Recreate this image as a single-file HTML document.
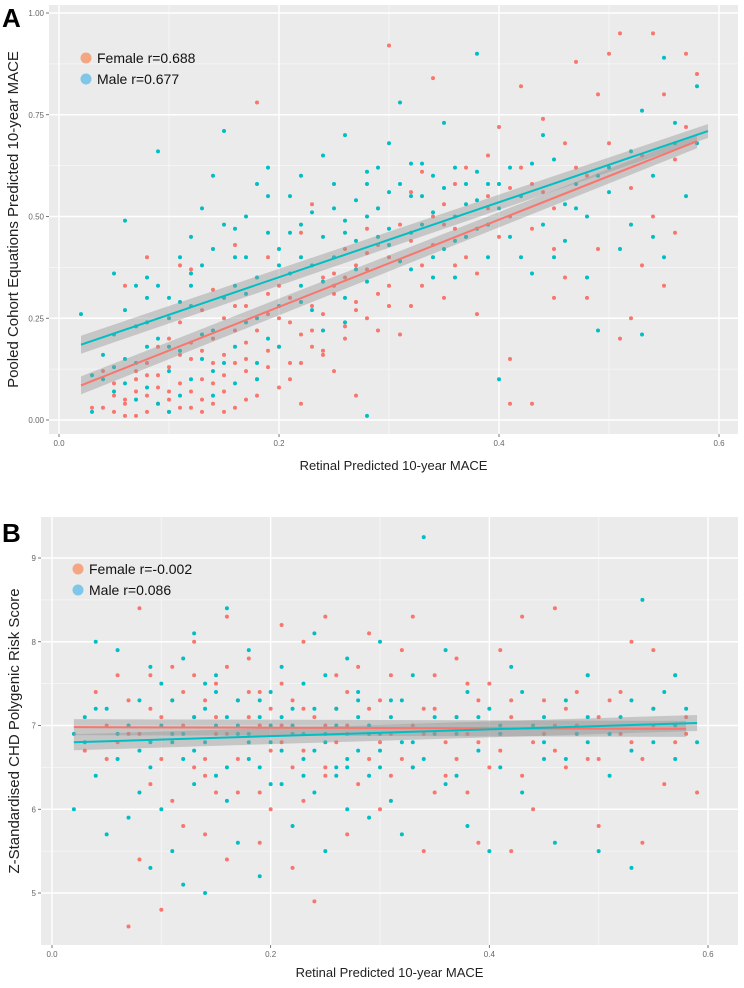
<!DOCTYPE html>
<html><head><meta charset="utf-8"><style>
body{margin:0;background:#fff;width:744px;height:988px;overflow:hidden;font-family:"Liberation Sans",sans-serif}
svg{display:block}
</style></head><body>
<svg id="fig" width="744" height="988" xmlns="http://www.w3.org/2000/svg">
<text x="2" y="27" font-size="26" font-weight="bold">A</text>
<text x="2" y="542" font-size="26" font-weight="bold">B</text>
<g id="pa"></g>
<g id="pb"></g>
</svg>
<script>
const aFemaleX=[0.03,0.04,0.05,0.06,0.07,0.08,0.09,0.10,0.11,0.12,0.13,0.14,0.15,0.16,0.17,0.18,0.19,0.06,0.08,0.11,0.12,0.14,0.16,0.18,0.20,0.21,0.22,0.23,0.24,0.25,0.26,0.27,0.28,0.29,0.30,0.31,0.32,0.33,0.34,0.35,0.36,0.37,0.38,0.39,0.40,0.41,0.42,0.43,0.44,0.45,0.46,0.47,0.48,0.49,0.50,0.51,0.52,0.53,0.54,0.55,0.56,0.57,0.58,0.57,0.55,0.53,0.51,0.50,0.48,0.46,0.44,0.42,0.40,0.38,0.36,0.34,0.32,0.30,0.28,0.26,0.24,0.22,0.20,0.19,0.17,0.15,0.13,0.12,0.10,0.09,0.08,0.07,0.05,0.04,0.11,0.13,0.15,0.17,0.19,0.21,0.23,0.25,0.27,0.29,0.31,0.33,0.35,0.37,0.39,0.41,0.43,0.45,0.47,0.49,0.52,0.54,0.56,0.45,0.41,0.14,0.10,0.16,0.06,
0.05,0.06,0.07,0.08,0.09,0.10,0.11,0.12,0.13,0.14,0.15,0.16,0.17,0.18,0.19,0.20,0.21,0.22,0.23,0.24,0.25,0.26,0.27,0.28,0.29,0.30,0.07,0.09,0.11,0.13,0.15,0.17,0.19,0.21,0.23,0.25,0.27,0.29,0.31,0.33,0.35,0.37,0.39,0.41,0.43,0.08,0.10,0.12,0.14,0.16,0.18,0.20,0.22,0.24,0.26,0.28,0.30,0.32,0.34,0.36];
const aFemaleY=[0.03,0.12,0.02,0.05,0.01,0.06,0.04,0.02,0.09,0.15,0.05,0.20,0.11,0.03,0.28,0.78,0.13,0.33,0.40,0.38,0.37,0.32,0.43,0.22,0.08,0.30,0.46,0.18,0.35,0.12,0.42,0.06,0.25,0.52,0.92,0.21,0.56,0.38,0.84,0.30,0.47,0.62,0.26,0.55,0.45,0.15,0.62,0.04,0.74,0.52,0.35,0.88,0.60,0.42,0.68,0.20,0.57,0.65,0.95,0.80,0.46,0.90,0.85,0.72,0.33,0.38,0.95,0.90,0.30,0.68,0.56,0.82,0.72,0.36,0.58,0.43,0.28,0.33,0.47,0.20,0.26,0.14,0.25,0.17,0.12,0.07,0.10,0.03,0.13,0.18,0.02,0.10,0.06,0.03,0.24,0.27,0.16,0.05,0.40,0.10,0.53,0.31,0.38,0.22,0.48,0.61,0.53,0.40,0.65,0.50,0.58,0.42,0.62,0.80,0.25,0.50,0.64,0.30,0.04,0.04,0.07,0.14,0.01,
0.09,0.04,0.12,0.14,0.08,0.20,0.03,0.07,0.17,0.09,0.02,0.22,0.15,0.06,0.26,0.18,0.24,0.04,0.28,0.16,0.33,0.23,0.29,0.37,0.31,0.40,0.07,0.11,0.16,0.02,0.25,0.19,0.31,0.14,0.22,0.36,0.27,0.43,0.39,0.33,0.48,0.45,0.52,0.57,0.47,0.11,0.05,0.19,0.14,0.28,0.10,0.33,0.21,0.17,0.35,0.41,0.28,0.44,0.50,0.38];
const aMaleX=[0.02,0.03,0.04,0.05,0.06,0.07,0.08,0.09,0.10,0.11,0.12,0.13,0.14,0.15,0.16,0.17,0.18,0.19,0.20,0.21,0.22,0.23,0.24,0.25,0.26,0.27,0.28,0.29,0.30,0.31,0.32,0.33,0.34,0.35,0.36,0.37,0.38,0.39,0.40,0.41,0.42,0.43,0.44,0.45,0.46,0.47,0.48,0.49,0.50,0.52,0.53,0.54,0.55,0.57,0.58,0.56,0.51,0.53,0.44,0.40,0.38,0.36,0.34,0.32,0.30,0.28,0.28,0.26,0.24,0.22,0.20,0.19,0.18,0.17,0.16,0.15,0.14,0.13,0.12,0.11,0.10,0.09,0.08,0.07,0.06,0.05,0.04,0.03,0.05,0.07,0.09,0.11,0.13,0.15,0.17,0.19,0.21,0.23,0.25,0.27,0.29,0.31,0.33,0.35,0.37,0.39,0.41,0.43,0.45,0.47,0.49,0.52,0.55,0.12,0.14,0.16,0.18,0.08,0.10,0.22,0.26,
0.05,0.06,0.07,0.08,0.09,0.10,0.11,0.12,0.13,0.14,0.15,0.16,0.17,0.18,0.19,0.20,0.21,0.22,0.23,0.24,0.25,0.26,0.27,0.28,0.29,0.30,0.31,0.32,0.33,0.34,0.35,0.36,0.37,0.38,0.39,0.06,0.08,0.10,0.12,0.14,0.16,0.18,0.20,0.22,0.24,0.26,0.28,0.30,0.32,0.34,0.36,0.38,0.40,0.42,0.46,0.50,0.54,0.56,0.58,0.48];
const aMaleY=[0.26,0.02,0.10,0.21,0.49,0.14,0.30,0.66,0.25,0.40,0.45,0.52,0.60,0.71,0.33,0.50,0.58,0.62,0.42,0.55,0.60,0.38,0.65,0.52,0.70,0.44,0.58,0.62,0.68,0.78,0.55,0.48,0.60,0.73,0.50,0.58,0.90,0.40,0.10,0.62,0.55,0.36,0.48,0.64,0.44,0.58,0.35,0.22,0.56,0.48,0.76,0.60,0.89,0.55,0.82,0.68,0.42,0.21,0.70,0.52,0.47,0.35,0.40,0.37,0.43,0.34,0.01,0.30,0.22,0.33,0.28,0.20,0.35,0.24,0.18,0.30,0.22,0.15,0.28,0.17,0.12,0.20,0.08,0.23,0.15,0.07,0.16,0.11,0.36,0.33,0.04,0.06,0.38,0.48,0.40,0.46,0.36,0.27,0.40,0.54,0.45,0.58,0.63,0.42,0.53,0.58,0.45,0.63,0.40,0.52,0.60,0.66,0.40,0.10,0.12,0.09,0.14,0.18,0.30,0.48,0.46,
0.13,0.27,0.05,0.24,0.33,0.18,0.29,0.36,0.21,0.42,0.14,0.47,0.31,0.25,0.55,0.38,0.46,0.29,0.51,0.34,0.58,0.49,0.37,0.61,0.52,0.47,0.39,0.63,0.55,0.51,0.57,0.62,0.45,0.54,0.48,0.09,0.35,0.02,0.33,0.06,0.40,0.10,0.18,0.40,0.45,0.24,0.50,0.56,0.46,0.35,0.44,0.61,0.58,0.40,0.53,0.62,0.45,0.73,0.68,0.50];
const aFit={fx:[0.02,0.58],fy:[0.085,0.685],mx:[0.02,0.59],my:[0.185,0.71]};
const aTicksY=[0,0.25,0.5,0.75,1.0];
const aTickLabelsY=["0.00","0.25","0.50","0.75","1.00"];
const ticksX=[0,0.2,0.4,0.6];
const tickLabelsX=["0.0","0.2","0.4","0.6"];

const bFemaleX=[0.03,0.04,0.05,0.06,0.07,0.08,0.09,0.10,0.11,0.12,0.13,0.14,0.15,0.16,0.17,0.18,0.19,0.20,0.21,0.22,0.23,0.24,0.25,0.26,0.27,0.28,0.29,0.30,0.31,0.32,0.33,0.34,0.35,0.36,0.37,0.38,0.39,0.40,0.41,0.42,0.43,0.44,0.45,0.46,0.47,0.48,0.49,0.50,0.51,0.52,0.53,0.54,0.55,0.56,0.57,0.58,0.59,0.07,0.09,0.11,0.13,0.15,0.17,0.19,0.21,0.23,0.25,0.27,0.29,0.31,0.33,0.35,0.37,0.39,0.41,0.43,0.45,0.47,0.49,0.51,0.53,0.55,0.57,0.12,0.14,0.16,0.18,0.20,0.10,0.06,0.08,0.22,0.26,0.30,0.34,0.38,0.42,0.46,0.50,0.54,0.58,0.14,0.16,
0.05,0.07,0.09,0.10,0.12,0.13,0.14,0.15,0.16,0.17,0.18,0.19,0.20,0.21,0.22,0.23,0.24,0.25,0.26,0.27,0.28,0.29,0.30,0.31,0.32,0.33,0.34,0.35,0.36,0.37,0.38,0.39,0.40,0.42,0.44,0.46,0.48,0.50,0.52,0.55,0.08,0.11,0.13,0.15,0.17,0.19,0.21,0.23,0.25,0.27];
const bFemaleY=[6.7,7.4,6.6,7.6,7.3,8.4,6.3,4.8,7.7,5.8,8.0,6.6,7.5,8.3,6.9,7.8,6.2,7.2,7.0,6.5,8.0,4.9,8.3,6.8,7.4,6.3,8.1,6.0,7.6,6.6,8.3,5.5,7.2,6.4,7.8,6.9,5.6,7.5,6.7,7.1,8.3,6.0,7.3,8.4,6.5,7.0,7.6,5.8,6.9,7.4,8.0,6.6,7.9,6.3,7.6,7.1,6.2,4.6,7.6,6.1,7.1,6.2,7.3,5.6,8.2,6.7,7.0,5.7,7.2,6.4,7.0,6.2,6.6,7.3,7.9,6.4,6.9,7.2,6.6,7.3,6.8,7.0,6.8,7.4,7.3,6.9,7.1,6.0,7.1,6.8,5.4,5.3,7.6,6.8,7.2,7.5,5.5,6.7,7.1,5.6,6.9,5.7,5.4,
7.0,6.9,7.2,6.6,7.0,7.6,6.4,6.9,7.7,6.2,7.4,7.0,6.7,7.5,7.3,6.1,7.1,6.5,7.2,6.9,7.7,6.6,7.3,6.9,7.9,6.5,6.9,7.6,6.8,7.1,6.2,6.8,6.5,7.3,6.8,7.0,7.4,6.6,6.9,7.2,6.9,7.3,6.5,7.1,6.6,7.4,6.8,7.2,6.4,7.0];
const bMaleX=[0.02,0.02,0.03,0.04,0.04,0.05,0.06,0.06,0.07,0.07,0.08,0.08,0.09,0.09,0.10,0.10,0.11,0.11,0.12,0.12,0.13,0.13,0.14,0.14,0.15,0.15,0.16,0.16,0.17,0.17,0.18,0.18,0.19,0.19,0.20,0.20,0.21,0.21,0.22,0.22,0.23,0.23,0.24,0.24,0.25,0.25,0.26,0.26,0.27,0.27,0.28,0.28,0.29,0.29,0.30,0.30,0.31,0.31,0.32,0.32,0.33,0.34,0.34,0.35,0.36,0.36,0.37,0.38,0.38,0.39,0.40,0.40,0.41,0.42,0.43,0.44,0.45,0.46,0.47,0.48,0.49,0.50,0.51,0.52,0.53,0.54,0.55,0.56,0.57,0.58,0.59,0.03,0.05,0.09,0.13,0.17,0.21,0.25,0.29,0.33,0.37,0.41,0.45,0.49,0.53,0.57,0.11,0.15,0.19,0.23,0.27,
0.04,0.06,0.08,0.10,0.11,0.12,0.13,0.14,0.15,0.16,0.17,0.18,0.19,0.20,0.21,0.22,0.23,0.24,0.25,0.26,0.27,0.28,0.29,0.30,0.31,0.32,0.33,0.35,0.37,0.39,0.41,0.43,0.45,0.47,0.49,0.51,0.53,0.55,0.57,0.09,0.12,0.14,0.16,0.18,0.20,0.22,0.24,0.26,0.28,0.30];
const bMaleY=[6.9,6.0,7.1,6.4,8.0,5.7,7.9,6.6,7.0,5.9,7.3,6.2,6.5,5.3,7.5,6.0,5.5,6.9,7.8,5.1,6.7,8.1,7.2,5.0,6.4,7.6,8.4,6.1,7.3,5.6,6.8,7.9,6.5,5.2,7.4,6.8,6.3,7.7,5.8,7.0,6.6,7.5,6.2,8.1,6.9,5.5,7.2,6.4,7.8,6.0,6.7,7.4,5.9,7.0,6.5,8.0,7.3,6.1,6.8,5.7,7.6,9.25,6.6,7.1,6.3,7.9,6.9,5.8,7.4,6.7,7.2,5.5,6.5,7.7,6.2,7.0,6.6,5.6,7.3,6.9,7.6,5.5,6.4,7.1,5.3,8.5,6.8,7.4,6.6,7.2,6.8,6.8,7.2,7.7,6.3,6.9,6.7,7.6,6.4,6.8,7.1,7.0,7.1,6.8,7.3,7.6,6.8,7.0,7.1,6.9,6.5,
7.2,6.9,6.7,7.0,7.3,6.6,7.1,6.8,7.4,6.5,7.0,6.9,7.3,6.3,7.1,6.9,6.4,7.2,6.8,7.0,6.6,7.3,6.9,6.7,7.1,7.3,6.5,6.9,6.4,7.1,6.9,7.4,6.8,6.6,7.1,6.9,6.7,7.2,7.0,6.8,6.9,7.5,7.1,6.6,7.0,7.2,6.7,6.5,7.1,6.9];
const bFit={fx:[0.02,0.58],fy:[6.98,6.96],mx:[0.02,0.59],my:[6.80,7.03]};
const bTicksY=[5,6,7,8,9];
const bTickLabelsY=["5","6","7","8","9"];

const NS="http://www.w3.org/2000/svg";
function mk(parent,tag,attrs){const e=document.createElementNS(NS,tag);for(const k in attrs)e.setAttribute(k,attrs[k]);parent.appendChild(e);return e;}

function panel(g,cfg){
  const {L,R,T,B,x0,x1,yv0,yp0,yv1,yp1}=cfg;
  const sx=v=>x0+(x1-x0)*v/0.6;
  const sy=v=>yp0+(yp1-yp0)*(v-yv0)/(yv1-yv0);
  const bg=mk(g,'rect',{x:L,y:T,width:R-L,height:B-T,fill:'#ebebeb'});
  
  
  for(let i=0;i<cfg.ticksY.length-1;i++){const v=(cfg.ticksY[i]+cfg.ticksY[i+1])/2;mk(g,'line',{x1:L,x2:R,y1:sy(v),y2:sy(v),stroke:'#f7f7f7','stroke-width':0.8});}
  for(let i=0;i<ticksX.length-1;i++){const v=(ticksX[i]+ticksX[i+1])/2;mk(g,'line',{y1:T,y2:B,x1:sx(v),x2:sx(v),stroke:'#f7f7f7','stroke-width':0.8});}
  cfg.ticksY.forEach((v,i)=>{
    mk(g,'line',{x1:L,x2:R,y1:sy(v),y2:sy(v),stroke:'#fff','stroke-width':1.4});
    mk(g,'line',{x1:L-3,x2:L,y1:sy(v),y2:sy(v),stroke:'#555','stroke-width':0.8});
    const t=mk(g,'text',{x:L-5,y:sy(v)+3,'text-anchor':'end','font-size':8,fill:'#666'});t.textContent=cfg.labelsY[i];
    
    
  });
  ticksX.forEach((v,i)=>{
    mk(g,'line',{y1:T,y2:B,x1:sx(v),x2:sx(v),stroke:'#fff','stroke-width':1.4});
    mk(g,'line',{y1:B,y2:B+3,x1:sx(v),x2:sx(v),stroke:'#555','stroke-width':0.8});
    const t=mk(g,'text',{x:sx(v),y:B+12,'text-anchor':'middle','font-size':8,fill:'#666'});t.textContent=tickLabelsX[i];
    
    
  });
  const pts=(xs,ys,col,name)=>{xs.forEach((x,i)=>{const c=mk(g,'circle',{cx:sx(x),cy:sy(ys[i]),r:2,fill:col});
    
    });};
  pts(cfg.fX,cfg.fY,'#F8766D','female-point');
  pts(cfg.mX,cfg.mY,'#00BFC4','male-point');
  const fit=cfg.fit;
  const band=(xs,ys,w,name)=>{const p=mk(g,'polygon',{points:`${sx(xs[0])},${sy(ys[0])-w[0]} ${sx(xs[1])},${sy(ys[1])-w[1]} ${sx(xs[1])},${sy(ys[1])+w[1]} ${sx(xs[0])},${sy(ys[0])+w[0]}`,fill:'#999','fill-opacity':0.45});
    
    };
  band(fit.fx,fit.fy,cfg.bw,'female-ci-band');
  band(fit.mx,fit.my,cfg.bw,'male-ci-band');
  const ln=(xs,ys,col,name)=>{const l=mk(g,'line',{x1:sx(xs[0]),y1:sy(ys[0]),x2:sx(xs[1]),y2:sy(ys[1]),stroke:col,'stroke-width':2});
    
    };
  ln(fit.fx,fit.fy,'#F8766D','female-fit-line');
  ln(fit.mx,fit.my,'#00BFC4','male-fit-line');
  const lg=mk(g,'g',{});
  
  
  mk(lg,'circle',{cx:L+37,cy:cfg.legY,r:5.5,fill:'#F4A582'});
  const t1=mk(lg,'text',{x:L+48,y:cfg.legY+5,'font-size':14,fill:'#111'});t1.textContent=cfg.legF;
  mk(lg,'circle',{cx:L+37,cy:cfg.legY+21,r:5.5,fill:'#7FC6E8'});
  const t2=mk(lg,'text',{x:L+48,y:cfg.legY+26,'font-size':14,fill:'#111'});t2.textContent=cfg.legM;
  const xt=mk(g,'text',{x:(L+R)/2,y:cfg.xTitleY,'text-anchor':'middle','font-size':13,fill:'#222'});xt.textContent='Retinal Predicted 10-year MACE';
  
  
  const yt=mk(g,'text',{x:0,y:0,'text-anchor':'middle','font-size':cfg.ytSize,fill:'#222',transform:`translate(${cfg.ytX},${(T+B)/2}) rotate(-90)`});yt.textContent=cfg.yTitle;
  
  
}
panel(document.getElementById('pa'),{L:49,R:738,T:5,B:434,x0:59,x1:719,yv0:0,yp0:420,yv1:1,yp1:13,ticksY:aTicksY,labelsY:aTickLabelsY,
  fX:aFemaleX,fY:aFemaleY,mX:aMaleX,mY:aMaleY,fit:aFit,bw:[9,7],legY:58,legF:'Female r=0.688',legM:'Male r=0.677',xTitleY:470,ytSize:15,ytX:18,yTitle:'Pooled Cohort Equations Predicted 10-year MACE'});
panel(document.getElementById('pb'),{L:41,R:738,T:517,B:945,x0:52,x1:708,yv0:5,yp0:893,yv1:9,yp1:558,ticksY:bTicksY,labelsY:bTickLabelsY,
  fX:bFemaleX,fY:bFemaleY,mX:bMaleX,mY:bMaleY,fit:bFit,bw:[8,8],legY:569,legF:'Female r=-0.002',legM:'Male r=0.086',xTitleY:977,ytSize:15,ytX:19,yTitle:'Z-Standardised CHD Polygenic Risk Score'});
</script>
</body></html>
